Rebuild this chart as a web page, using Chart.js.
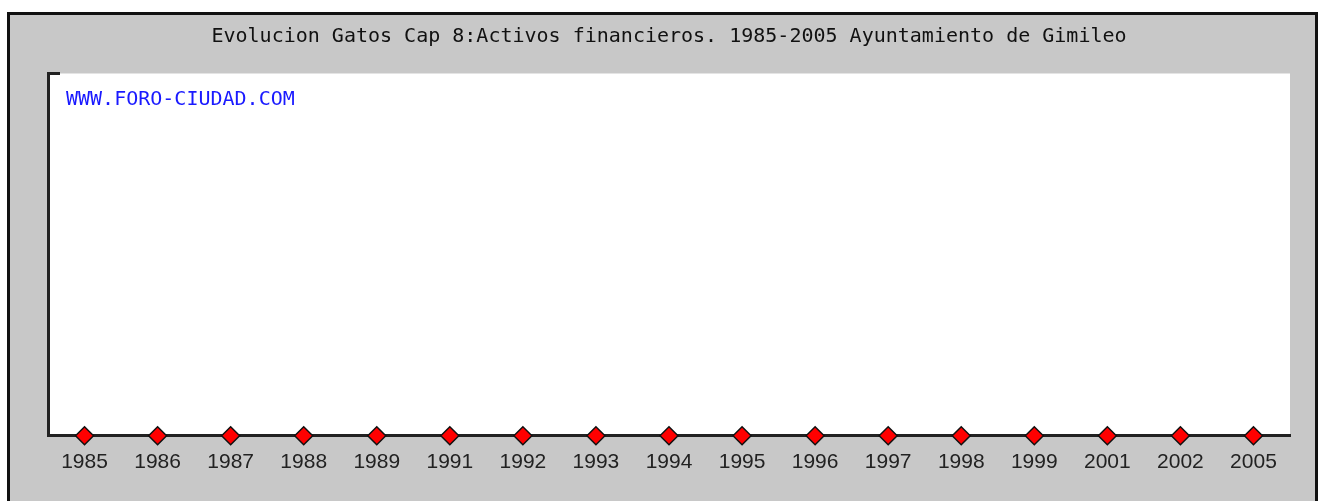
<!DOCTYPE html>
<html>
<head>
<meta charset="utf-8">
<script src="https://cdn.jsdelivr.net/npm/chart.js@4/dist/chart.umd.min.js"></script>
<style>
  html, body { margin: 0; padding: 0; background: #fff; }
  #wrap { width: 1319px; height: 501px; }
</style>
</head>
<body>
<div id="wrap"><canvas id="chart" width="1319" height="501"></canvas></div>
<script>
const years = ['1985', '1986', '1987', '1988', '1989', '1991', '1992', '1993', '1994',
    '1995', '1996', '1997', '1998', '1999', '2001', '2002', '2005'];
const gastos = [0, 0, 0, 0, 0, 0, 0, 0, 0, 0, 0, 0, 0, 0, 0, 0, 0];
const chartTitle = 'Evolucion Gatos Cap 8:Activos financieros. 1985-2005 Ayuntamiento de Gimileo';
const watermark = 'WWW.FORO-CIUDAD.COM';

const MONO = '"DejaVu Sans Mono", monospace';

// grey frame, white plot area, watermark and the little tick at the top of the y axis
const framePlugin = {
    id: 'frame',
    beforeDraw(chart) {
        const ctx = chart.ctx;
        const area = chart.chartArea;
        ctx.save();
        ctx.fillStyle = '#ffffff';
        ctx.fillRect(0, 0, chart.width, chart.height);
        ctx.fillStyle = '#c8c8c8';
        ctx.fillRect(8, 13, chart.width - 10, chart.height);
        ctx.strokeStyle = '#111';
        ctx.lineWidth = 3;
        ctx.strokeRect(8.5, 13.5, chart.width - 11, chart.height + 10);
        ctx.fillStyle = '#ffffff';
        ctx.fillRect(area.left, area.top, area.right - area.left, area.bottom - area.top);
        ctx.restore();
    },
    afterDraw(chart) {
        const ctx = chart.ctx;
        const area = chart.chartArea;
        const yTop = chart.scales.y.getPixelForValue(chart.scales.y.max);
        ctx.save();
        ctx.strokeStyle = '#222';
        ctx.lineWidth = 3;
        ctx.beginPath();
        ctx.moveTo(area.left - 1, yTop);
        ctx.lineTo(area.left + 12, yTop);
        ctx.stroke();
        ctx.fillStyle = '#1a1aff';
        ctx.font = '20px ' + MONO;
        ctx.textBaseline = 'middle';
        ctx.fillText(watermark, area.left + 18, area.top + 26);
        ctx.restore();
    }
};

new Chart(document.getElementById('chart'), {
    type: 'line',
    data: {
        labels: years,
        datasets: [{
            label: 'Gastos',
            data: gastos,
            borderColor: '#222',
            borderWidth: 2,
            pointStyle: 'rectRot',
            pointRadius: 9,
            pointBackgroundColor: '#ff0000',
            pointBorderColor: '#111',
            pointBorderWidth: 1.5,
            clip: false
        }]
    },
    options: {
        responsive: false,
        animation: false,
        layout: {
            padding: { left: 48, right: 29, top: 25, bottom: 20 }
        },
        plugins: {
            legend: { display: false },
            tooltip: { enabled: false },
            title: {
                display: true,
                text: chartTitle,
                color: '#111',
                font: { family: MONO, size: 20, weight: 'normal' },
                padding: { top: 0, bottom: 24.5 }
            }
        },
        scales: {
            x: {
                offset: true,
                grid: { display: false },
                border: { display: true, color: '#222', width: 3 },
                ticks: {
                    color: '#222',
                    padding: 6,
                    font: { family: '"Liberation Sans", Arial, sans-serif', size: 21 },
                    maxRotation: 0,
                    autoSkip: false
                }
            },
            y: {
                min: 0,
                max: 1,
                grid: { display: false },
                border: { display: true, color: '#222', width: 3 },
                ticks: { display: false },
                afterFit(scale) { scale.width = 0; }
            }
        }
    },
    plugins: [framePlugin]
});
</script>
</body>
</html>
